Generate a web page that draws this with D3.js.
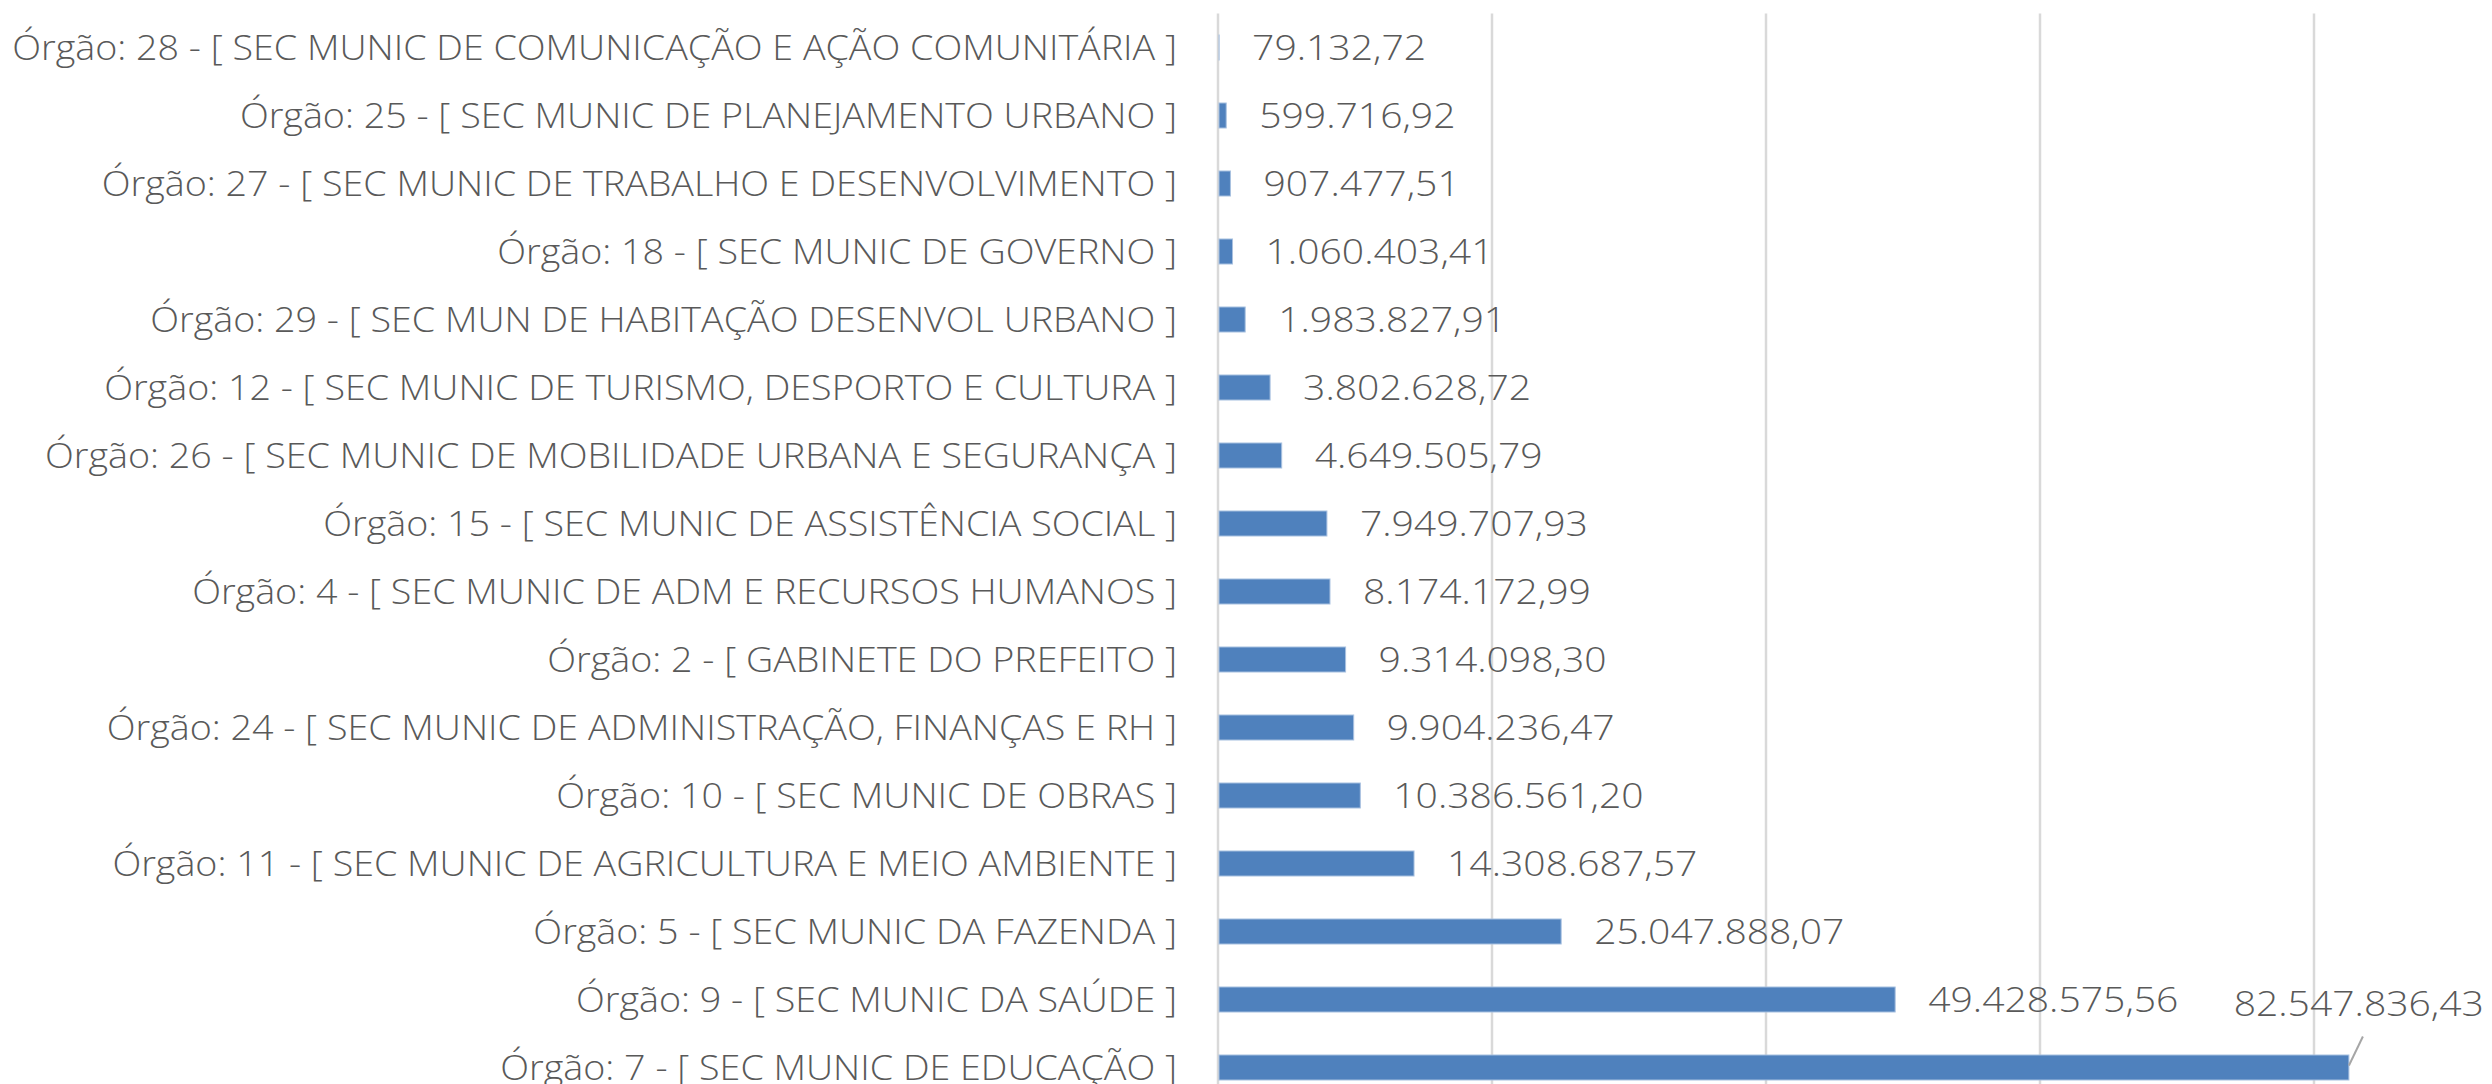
<!DOCTYPE html>
<html>
<head>
<meta charset="utf-8">
<script src="https://cdn.jsdelivr.net/npm/d3@7"></script>
<style>
  html, body { margin: 0; padding: 0; background: #fff; overflow: hidden; }
  text { font-family: "Open Sans", "Noto Sans", sans-serif; font-weight: 300; fill: #595959; }
</style>
</head>
<body>
<div id="chart"></div>
<script>
// data, top to bottom as in the picture
const orgaos = [
  "Órgão: 28 - [ SEC MUNIC DE COMUNICAÇÃO E AÇÃO COMUNITÁRIA ]",
  "Órgão: 25 - [ SEC MUNIC DE PLANEJAMENTO URBANO ]",
  "Órgão: 27 - [ SEC MUNIC DE TRABALHO E DESENVOLVIMENTO ]",
  "Órgão: 18 - [ SEC MUNIC DE GOVERNO ]",
  "Órgão: 29 - [ SEC MUN DE HABITAÇÃO DESENVOL URBANO ]",
  "Órgão: 12 - [ SEC MUNIC DE TURISMO, DESPORTO E CULTURA ]",
  "Órgão: 26 - [ SEC MUNIC DE MOBILIDADE URBANA E SEGURANÇA ]",
  "Órgão: 15 - [ SEC MUNIC DE ASSISTÊNCIA SOCIAL ]",
  "Órgão: 4 - [ SEC MUNIC DE ADM E RECURSOS HUMANOS ]",
  "Órgão: 2 - [ GABINETE DO PREFEITO ]",
  "Órgão: 24 - [ SEC MUNIC DE ADMINISTRAÇÃO, FINANÇAS E RH ]",
  "Órgão: 10 - [ SEC MUNIC DE OBRAS ]",
  "Órgão: 11 - [ SEC MUNIC DE AGRICULTURA E MEIO AMBIENTE ]",
  "Órgão: 5 - [ SEC MUNIC DA FAZENDA ]",
  "Órgão: 9 - [ SEC MUNIC DA SAÚDE ]",
  "Órgão: 7 - [ SEC MUNIC DE EDUCAÇÃO ]"
];
const valores = [
  79132.72, 599716.92, 907477.51, 1060403.41, 1983827.91, 3802628.72,
  4649505.79, 7949707.93, 8174172.99, 9314098.30, 9904236.47, 10386561.20,
  14308687.57, 25047888.07, 49428575.56, 82547836.43
];
const gridTicks = [0, 20000000, 40000000, 60000000, 80000000, 100000000];

const w = 2492;
const h = 1084;
const axisX = 1218;     // where the category axis sits
const plotTop = 13.5;
const step = 68;

// brazilian number format 1.234,56
const br = d3.formatLocale({ decimal: ",", thousands: ".", grouping: [3], currency: ["R$", ""] });
const fmt = br.format(",.2f");

const data = orgaos.map((d, i) => ({ name: d, value: valores[i] }));

const x = d3.scaleLinear()
            .domain([0, 100000000])
            .range([axisX, axisX + 1370]);

const y = d3.scaleBand()
            .domain(orgaos)
            .range([plotTop, plotTop + step * orgaos.length])
            .paddingInner(0.632)
            .paddingOuter(0.316);

const svg = d3.select("#chart")
              .append("svg")
              .attr("width", w)
              .attr("height", h);

// vertical gridlines
svg.append("g")
   .selectAll("line")
   .data(gridTicks)
   .enter()
   .append("line")
   .attr("x1", d => x(d))
   .attr("x2", d => x(d))
   .attr("y1", plotTop)
   .attr("y2", h + 20)
   .attr("stroke", "#d9d9d9")
   .attr("stroke-width", 2.5);

// bars
svg.append("g")
   .selectAll("rect")
   .data(data)
   .enter()
   .append("rect")
   .attr("x", x(0) + 1)
   .attr("y", d => y(d.name))
   .attr("width", d => Math.max(0, x(d.value) - x(0) - 1))
   .attr("height", y.bandwidth())
   .attr("fill", "#4f81bd")
   .attr("stroke", "#a9c1e0")
   .attr("stroke-width", 1);

const mid = d => y(d.name) + y.bandwidth() / 2;
const capHalf = 12.5;

// category labels, squeezed to the width of the original font
const catG = svg.append("g");
const cats = catG.selectAll("text")
                 .data(data)
                 .enter()
                 .append("text")
                 .attr("text-anchor", "end")
                 .style("font-size", "35px")
                 .text(d => d.name);
let longest = d3.max(cats.nodes(), n => n.getComputedTextLength());
let kCat = 1165 / longest;
cats.attr("transform", d => "translate(" + (axisX - 41) + "," + (mid(d) + capHalf) + ") scale(" + kCat + ",1)");

// value labels
const last = data.length - 1;
const valG = svg.append("g");
const vals = valG.selectAll("text")
                 .data(data)
                 .enter()
                 .append("text")
                 .style("font-size", "35px")
                 .text(d => fmt(d.value));
let kVal = 174 / vals.nodes()[0].getComputedTextLength();
vals.attr("text-anchor", (d, i) => i === last ? "end" : "start")
    .attr("transform", (d, i) => {
      if (i === last) {
        // the biggest label was dragged up and to the right in the original
        return "translate(" + (x(d.value) + 135) + "," + (mid(d) - 52) + ") scale(" + kVal + ",1)";
      }
      return "translate(" + (x(d.value) + 33) + "," + (mid(d) + capHalf) + ") scale(" + kVal + ",1)";
    });

// leader line for that label
const big = data[last];
svg.append("line")
   .attr("x1", x(big.value))
   .attr("y1", mid(big) - 2)
   .attr("x2", x(big.value) + 14)
   .attr("y2", mid(big) - 31)
   .attr("stroke", "#a6a6a6")
   .attr("stroke-width", 2);
</script>
</body>
</html>
